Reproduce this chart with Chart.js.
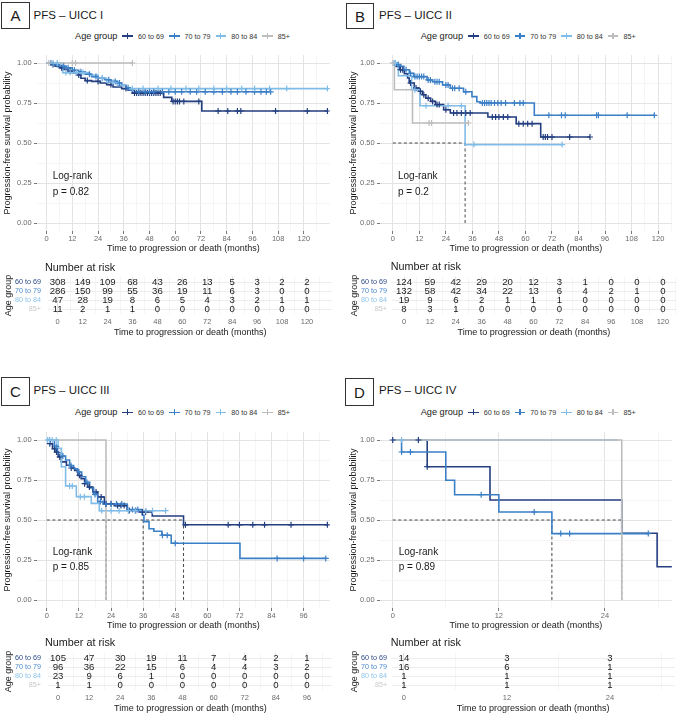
<!DOCTYPE html>
<html>
<head>
<meta charset="utf-8">
<title>PFS by age group and UICC stage</title>
<script src="https://cdn.jsdelivr.net/npm/chart.js@4.4.1/dist/chart.umd.min.js"></script>
<style>
  body { margin: 0; background: #fff; }
  #fig { position: relative; width: 677px; height: 714px; overflow: hidden;
         font-family: "Liberation Sans", Arial, sans-serif; color: #1a1a1a; }
  #fig canvas { position: absolute; }
  .t { position: absolute; white-space: nowrap; line-height: 1.15; transform: translateY(-50%); }
  .box { position: absolute; border: 1px solid #333; box-sizing: border-box; display: flex;
         align-items: center; justify-content: center; font-size: 15px; background: #fff; }
  .legend { position: absolute; display: flex; align-items: center; transform: translateY(-50%); white-space: nowrap; }
  .legend .lt { font-size: 9.2px; margin-right: 5px; }
  .legend .key { position: relative; width: 10.6px; height: 8px; margin-right: 5px; }
  .legend .key::before { content: ""; position: absolute; left: 0; right: 0; top: 3.3px; height: 1.5px; background: var(--c); }
  .legend .key::after { content: ""; position: absolute; left: 4.6px; width: 1.3px; top: 1px; height: 6px; background: var(--c); }
  .legend .ll { font-size: 7.2px; margin-right: 5px; color: #333; }
</style>
</head>
<body>
<div id="fig"></div>
<script>
const groups = ['60 to 69', '70 to 79', '80 to 84', '85+'];
const palette = ['#233f80', '#3b7fc6', '#80bce8', '#bdbdbd'];
const labelColors = ['#2d4a8a', '#4a8ad0', '#8cc3ec', '#c8c8c8'];

// tick values
const yMajor = [0, 0.25, 0.5, 0.75, 1];
const yMinor = [0.125, 0.375, 0.625, 0.875];
const ticksAB = [0, 12, 24, 36, 48, 60, 72, 84, 96, 108, 120];
const minorAB = [6, 18, 30, 42, 54, 66, 78, 90, 102, 114, 126];
const ticksC = [0, 12, 24, 36, 48, 60, 72, 84, 96];
const minorC = [6, 18, 30, 42, 54, 66, 78, 90, 102];
const ticksD = [0, 12, 24];
const minorD = [6, 18, 30];

// panel A - UICC I : [time, survival] steps, censor times
const a6069 = [[0,1],[2,.99],[4,.98],[6,.97],[8,.96],[10,.95],[12,.94],[14,.925],[16,.905],[18,.89],[21,.885],[25,.875],[28,.865],[31,.85],[35,.84],[38,.83],[40,.812],[54.6,.785],[58.4,.76],[72.4,.70],[131,.70]];
const a6069c = [3,7,11,15,19,24,30,37,41,42,43,44,45,46,47,48,49,50,51,52,53,59,60,61,62,64,71,80,84.5,89,90.6,106.8,121.6,131];
const a7079 = [[0,1],[3,.99],[6,.98],[9,.97],[12,.955],[15,.945],[18,.93],[21,.915],[24,.905],[27,.895],[30,.885],[33,.875],[35,.86],[37,.845],[39,.83],[41,.82],[104.5,.82]];
const a7079c = [2,5,8,10,13,16,20,23,26,29,32,34,38,43,46,48,50,54,57,60,63,67,70,74,78,82,86,89,93,97,100,102.5,104.5];
const a8084 = [[0,1],[7.5,.94],[20,.925],[24,.905],[28,.88],[33,.86],[37,.84],[131,.84]];
const a8084c = [3,5,9,11,14,17,26,31,40,45,52,58,65,71,78,84,91,97,104,112,131];
const a85 = [[0,1],[40,1]];
const a85c = [1,12,13.5,40];
const medA = [];

// panel B - UICC II
const b6069 = [[0,1],[1.5,.979],[3,.958],[5.2,.933],[6.7,.906],[7.4,.875],[9.7,.844],[11.9,.823],[13.4,.802],[14.9,.78],[17.1,.76],[19.3,.74],[23,.708],[26,.6875],[43,.6625],[55.8,.621],[66.9,.5375],[89.2,.5375]];
const b6069c = [3.5,4.5,8,10.5,12.5,14,16,18,20,21,24,27.5,29,31,33,35,45,46.5,48,50,52,57,59,61,63,68,69,70,72,80,89.2];
const b7079 = [[0,1],[2,.99],[3.5,.979],[5,.958],[7.5,.935],[9.5,.915],[15.5,.894],[18,.883],[22.5,.8625],[26,.842],[32,.82],[35.8,.79],[38,.758],[39.5,.75],[64,.673],[118.3,.673]];
const b7079c = [1,2.5,6,8,10,11,12,13,14,16,17,19,20,21,24,25,27,28,30,33,40.5,41.5,42.5,43.5,44.5,46,47.5,49,51,55,57.5,59,70.6,76.3,78,92.2,93,106,118.3];
const b8084 = [[0,1],[2.5,.92],[8.5,.833],[12.3,.733],[32.7,.49],[76.6,.49]];
const b8084c = [0.5,1.2,10,15,25,31,36.7,76.6];
const b85 = [[0,1],[0.7,.833],[8.9,.625],[34.2,.625]];
const b85c = [0,16.4,17.5,34.2];
const medB = [32.7];

// panel C - UICC III
const c6069 = [[0,1],[1.1,.977],[2.1,.946],[3,.925],[4.2,.894],[5.4,.863],[7.3,.842],[9.1,.825],[10.4,.81],[11.6,.779],[12.8,.758],[14.1,.727],[15.3,.706],[17.2,.675],[19,.644],[21.5,.602],[25.2,.59],[30.1,.56],[34.5,.55],[39.4,.525],[51.1,.47],[104.9,.47]];
const c6069c = [1.1,2.9,3.6,4.8,9.1,12.2,14.1,15.9,18.4,20.3,22.1,24,26.4,27.7,28.9,30.8,33.2,35.7,36.9,51.8,67.8,72,77,81.4,91.3,104.9];
const c7079 = [[0,1],[2.8,.96],[4,.92],[5.5,.9],[7,.875],[8.5,.84],[10,.82],[11.5,.8],[13,.77],[14.5,.735],[16,.7],[17.5,.66],[19,.615],[21,.6],[30,.565],[35.7,.53],[36.3,.49],[38.2,.445],[40,.43],[43,.405],[46.5,.355],[72.2,.26],[104.3,.26]];
const c7079c = [1,3.5,6,9,12,15,18,20,22,24,26,28,32,34,43.2,45,48,86.1,96,104.3];
const c8084 = [[0,1],[4.2,.948],[5.4,.833],[7,.7125],[11,.646],[16.6,.604],[19.6,.558],[44.4,.558]];
const c8084c = [0.3,1,2,3.5,8.5,9.5,12.5,14,20.5,24,27,30.5,33,37,39.5,44.4];
const c85 = [[0,1],[22.1,0]];
const c85c = [];
const medC = [22.1, 36, 51.1];

// panel D - UICC IV
const d6069 = [[0,1],[3.9,.833],[11,.625],[25.9,.417],[29.9,.208],[33,.208]];
const d6069c = [0,2.9,3.9];
const d7079 = [[0,1],[1,.925],[6,.748],[7,.658],[12,.55],[18,.415],[28.9,.415]];
const d7079c = [1,2,10,16,19,20,28.9];
const d8084 = [[0,1],[25.5,1]];
const d8084c = [1];
const d85 = [[0,1],[25.9,0]];
const d85c = [];
const medD = [18, 25.9];

// numbers at risk
const riskTimesAB = [0, 12, 24, 36, 48, 60, 72, 84, 96, 108, 120];
const rA6069 = [308,149,109,68,43,26,13,5,3,2,2];
const rA7079 = [286,150,99,55,36,19,11,6,3,0,0];
const rA8084 = [47,28,19,8,6,5,4,3,2,1,1];
const rA85 = [11,2,1,1,0,0,0,0,0,0,0];
const rB6069 = [124,59,42,29,20,12,3,1,0,0,0];
const rB7079 = [132,58,42,34,22,13,6,4,2,1,0];
const rB8084 = [19,9,6,2,1,1,1,0,0,0,0];
const rB85 = [8,3,1,0,0,0,0,0,0,0,0];
const riskTimesC = [0, 12, 24, 36, 48, 60, 72, 84, 96];
const rC6069 = [105,47,30,19,11,7,4,2,1];
const rC7079 = [96,36,22,15,6,4,4,3,2];
const rC8084 = [23,9,6,1,0,0,0,0,0];
const rC85 = [1,1,0,0,0,0,0,0,0];
const riskTimesD = [0, 12, 24];
const rD6069 = [14,3,3];
const rD7079 = [16,6,1];
const rD8084 = [1,1,1];
const rD85 = [1,1,1];

const panels = [
  { letter: 'A', title: 'PFS – UICC I', p: 'p = 0.82',
    curves: [a6069, a7079, a8084, a85], cens: [a6069c, a7079c, a8084c, a85c], meds: medA,
    xTicks: ticksAB, xMinor: minorAB, riskTimes: riskTimesAB, risk: [rA6069, rA7079, rA8084, rA85] },
  { letter: 'B', title: 'PFS – UICC II', p: 'p = 0.2',
    curves: [b6069, b7079, b8084, b85], cens: [b6069c, b7079c, b8084c, b85c], meds: medB,
    xTicks: ticksAB, xMinor: minorAB, riskTimes: riskTimesAB, risk: [rB6069, rB7079, rB8084, rB85] },
  { letter: 'C', title: 'PFS – UICC III', p: 'p = 0.85',
    curves: [c6069, c7079, c8084, c85], cens: [c6069c, c7079c, c8084c, c85c], meds: medC,
    xTicks: ticksC, xMinor: minorC, riskTimes: riskTimesC, risk: [rC6069, rC7079, rC8084, rC85] },
  { letter: 'D', title: 'PFS – UICC IV', p: 'p = 0.89',
    curves: [d6069, d7079, d8084, d85], cens: [d6069c, d7079c, d8084c, d85c], meds: medD,
    xTicks: ticksD, xMinor: minorD, riskTimes: riskTimesD, risk: [rD6069, rD7079, rD8084, rD85] }
];

// positions of each panel's pieces
const layouts = [
  { box: [1, 2, 29, 27], titleAt: [33.5, 15.5], legendAt: [75, 36], logrank: [52.7, 175.7, 191.7], nar: [45, 266.7],
    km: { left: 0, top: 48, w: 335, h: 206, yW: 37, padTop: 7, padRight: 2, xH: 23, yTitlePad: 2, xmin: -4.48, xmax: 132.1 },
    rt: { left: 0, top: 272, w: 335, h: 66, yW: 48.4, padTop: 4.6, padRight: 2.9, xH: 23.6, labPad: 7.4 } },
  { box: [346, 3, 28, 26], titleAt: [379, 15.5], legendAt: [420.7, 36], logrank: [398, 175.7, 191.7], nar: [390.7, 266],
    km: { left: 345, top: 48, w: 332, h: 206, yW: 35, padTop: 7, padRight: 1, xH: 23, yTitlePad: 3.5, xmin: -5.8, xmax: 126.2 },
    rt: { left: 346, top: 272, w: 331, h: 66, yW: 45.5, padTop: 4.6, padRight: 0.7, xH: 23.6, labPad: 4.5 } },
  { box: [1, 377, 29, 29], titleAt: [33.5, 391], legendAt: [75, 412.3], logrank: [52.7, 552.3, 567.3], nar: [45, 641.7],
    km: { left: 0, top: 425, w: 335, h: 206, yW: 37, padTop: 7, padRight: 2, xH: 23, yTitlePad: 2, xmin: -3.7, xmax: 105.8 },
    rt: { left: 0, top: 648, w: 335, h: 66, yW: 48.4, padTop: 4.6, padRight: 2.6, xH: 23.6, labPad: 7.4 } },
  { box: [345, 378, 29, 28], titleAt: [379, 391], legendAt: [420.7, 412.3], logrank: [398.7, 551.7, 567.3], nar: [390.7, 641.7],
    km: { left: 345, top: 425, w: 332, h: 206, yW: 35, padTop: 7, padRight: 0, xH: 23, yTitlePad: 3.5, xmin: -1.44, xmax: 31.56 },
    rt: { left: 346, top: 648, w: 331, h: 66, yW: 45.6, padTop: 4.6, padRight: 2.2, xH: 23.6, labPad: 4.5 } }
];

Chart.defaults.font.family = '"Liberation Sans", Arial, sans-serif';

const fig = document.getElementById('fig');
const TICK_COLOR = '#6b6b6b';
const CLEAR = 'rgba(0,0,0,0)';
const X_TITLE = 'Time to progression or death (months)';

function survAt(steps, t) {
  let s = steps[0][1];
  for (const [x, y] of steps) if (x <= t) s = y;
  return s;
}

function addText(txt, left, cy, size) {
  const d = document.createElement('div');
  d.className = 't';
  d.textContent = txt;
  d.style.left = left + 'px';
  d.style.top = cy + 'px';
  d.style.fontSize = size + 'px';
  fig.appendChild(d);
}

function addCanvas(l) {
  const c = document.createElement('canvas');
  c.width = l.w; c.height = l.h;
  c.style.left = l.left + 'px'; c.style.top = l.top + 'px';
  c.style.width = l.w + 'px'; c.style.height = l.h + 'px';
  fig.appendChild(c);
  return c;
}

function addLegend(left, cy) {
  const d = document.createElement('div');
  d.className = 'legend';
  d.style.left = left + 'px';
  d.style.top = cy + 'px';
  let html = '<span class="lt">Age group</span>';
  groups.forEach((g, i) => {
    html += `<span class="key" style="--c:${palette[i]}"></span><span class="ll">${g}</span>`;
  });
  d.innerHTML = html;
  fig.appendChild(d);
}

function gridFor(majors) {
  return {
    color: c => majors.includes(c.tick.value) ? '#e3e3e3' : '#efefef',
    lineWidth: c => majors.includes(c.tick.value) ? 1 : 0.6
  };
}

function xScale(p, L, risk) {
  const all = [...p.xTicks, ...p.xMinor].filter(v => v <= L.xmax).sort((a, b) => a - b);
  return {
    type: 'linear', bounds: 'data', min: L.xmin, max: L.xmax,
    afterBuildTicks: s => { s.ticks = all.map(v => ({ value: v })); },
    afterFit: s => { s.height = L.xH; },
    ticks: { autoSkip: false, maxRotation: 0, minRotation: 0, padding: 0,
             color: TICK_COLOR, font: { size: 7.5 },
             callback: v => p.xTicks.includes(v) ? String(v) : '' },
    // the risk table has no tick marks: a clear tick keeps the label gap
    grid: { ...gridFor(p.xTicks), drawTicks: true, tickLength: risk ? 3.1 : 3, tickWidth: 0.8,
            tickColor: c => (!risk && p.xTicks.includes(c.tick.value)) ? '#555' : CLEAR },
    border: { display: false },
    title: { display: true, text: X_TITLE, color: '#1a1a1a', font: { size: 9 }, padding: { top: 0, bottom: 0 } }
  };
}

function kmChart(p, L) {
  const datasets = [];
  p.curves.forEach((steps, i) => {
    datasets.push({
      data: steps.map(([x, y]) => ({ x, y })), stepped: true, fill: false,
      borderColor: palette[i], borderWidth: 1.6, pointRadius: 0, order: 10 - i
    });
    datasets.push({
      data: p.cens[i].map(t => ({ x: t, y: survAt(steps, t) })), showLine: false,
      pointStyle: 'cross', pointRadius: 3, pointBorderColor: palette[i], pointBorderWidth: 1.2,
      borderColor: palette[i], order: 5 - i
    });
  });
  if (p.meds.length) {
    const dash = { showLine: true, stepped: false, borderColor: '#333', borderWidth: 0.9,
                   borderDash: [3, 2.5], pointRadius: 0, order: 20 };
    datasets.push({ ...dash, data: [{ x: 0, y: 0.5 }, { x: Math.max(...p.meds), y: 0.5 }] });
    p.meds.forEach(m => datasets.push({ ...dash, data: [{ x: m, y: 0.5 }, { x: m, y: 0 }] }));
  }

  const yAll = [...yMajor, ...yMinor].sort((a, b) => a - b);
  new Chart(addCanvas(L), {
    type: 'line',
    data: { datasets },
    options: {
      responsive: false, animation: false, events: [],
      layout: { padding: { left: 0, right: L.padRight, top: L.padTop, bottom: 0 } },
      plugins: { legend: { display: false }, tooltip: { enabled: false } },
      scales: {
        x: xScale(p, L, false),
        y: {
          type: 'linear', bounds: 'data', min: -0.05, max: 1.05,
          afterBuildTicks: s => { s.ticks = yAll.map(v => ({ value: v })); },
          afterFit: s => { s.width = L.yW; },
          ticks: { autoSkip: false, padding: 2.3, color: TICK_COLOR, font: { size: 7.5 },
                   callback: v => yMajor.includes(v) ? v.toFixed(2) : '' },
          grid: { ...gridFor(yMajor), drawTicks: true, tickLength: 3, tickWidth: 0.8,
                  tickColor: c => yMajor.includes(c.tick.value) ? '#555' : CLEAR },
          border: { display: false },
          title: { display: true, text: 'Progression-free survival probability', color: '#1a1a1a',
                   font: { size: 9 }, padding: { top: L.yTitlePad, bottom: 0 } }
        }
      }
    }
  });
}

const riskText = {
  id: 'riskText',
  afterDatasetsDraw(chart, args, opts) {
    const { ctx, scales: { x, y } } = chart;
    ctx.save();
    ctx.font = '9.6px "Liberation Sans", Arial, sans-serif';
    ctx.fillStyle = '#1a1a1a';
    ctx.textAlign = 'center';
    ctx.textBaseline = 'middle';
    opts.rows.forEach((row, r) => {
      row.forEach((n, k) => ctx.fillText(String(n), x.getPixelForValue(opts.times[k]), y.getPixelForValue(r)));
    });
    ctx.restore();
  }
};

function riskChart(p, L, K) {
  const rowIdx = groups.map((g, i) => i);
  new Chart(addCanvas(L), {
    type: 'scatter',
    data: { datasets: [{ data: [] }] },
    plugins: [riskText],
    options: {
      responsive: false, animation: false, events: [],
      layout: { padding: { left: 0, right: L.padRight, top: L.padTop, bottom: 0 } },
      plugins: { legend: { display: false }, tooltip: { enabled: false },
                 riskText: { times: p.riskTimes, rows: p.risk } },
      scales: {
        x: xScale(p, { ...L, xmin: K.xmin, xmax: K.xmax }, true),
        y: {
          type: 'linear', bounds: 'data', min: -0.6, max: 3.6, reverse: true,
          afterBuildTicks: s => { s.ticks = rowIdx.map(v => ({ value: v })); },
          afterFit: s => { s.width = L.yW; },
          ticks: { autoSkip: false, padding: 0, font: { size: 7.2 },
                   color: c => labelColors[c.tick.value], callback: v => groups[v] },
          grid: { color: '#ebebeb', lineWidth: 0.9, drawTicks: true, tickLength: L.labPad, tickColor: CLEAR },
          border: { display: false },
          title: { display: true, text: 'Age group', color: '#1a1a1a', font: { size: 9 },
                   padding: { top: 3.4, bottom: 0 } }
        }
      }
    }
  });
}

panels.forEach((p, i) => {
  const L = layouts[i];
  const b = document.createElement('div');
  b.className = 'box';
  b.textContent = p.letter;
  Object.assign(b.style, { left: L.box[0] + 'px', top: L.box[1] + 'px', width: L.box[2] + 'px', height: L.box[3] + 'px' });
  fig.appendChild(b);
  addText(p.title, L.titleAt[0], L.titleAt[1], 11.5);
  addLegend(L.legendAt[0], L.legendAt[1]);

  kmChart(p, L.km);
  riskChart(p, L.rt, L.km);

  addText('Log-rank', L.logrank[0], L.logrank[1], 10);
  addText(p.p, L.logrank[0], L.logrank[2], 10);
  addText('Number at risk', L.nar[0], L.nar[1], 10.8);
});
</script>
</body>
</html>
